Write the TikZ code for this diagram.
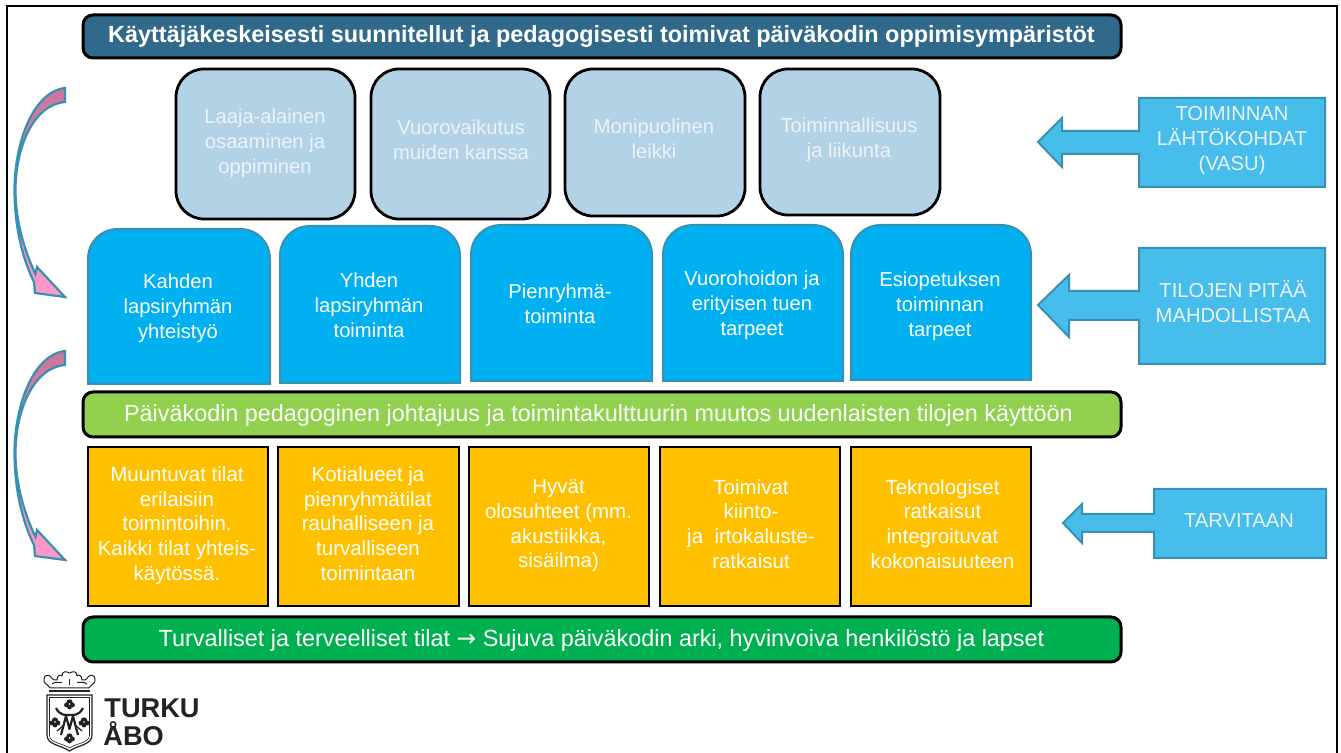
\documentclass[tikz,border=0pt]{standalone}
\usepackage{fontspec}
\setmainfont{Liberation Sans}
\newfontfamily\arrowfont{DejaVu Sans}
\definecolor{titleblue}{HTML}{30698A}
\definecolor{paleblue}{HTML}{B3D2E6}
\definecolor{paletext}{HTML}{EAF3F8}
\definecolor{brightblue}{HTML}{00B0F0}
\definecolor{tealedge}{HTML}{3A90B0}
\definecolor{skyblue}{HTML}{47BDEB}
\definecolor{limebar}{HTML}{92D050}
\definecolor{amber}{HTML}{FFC000}
\definecolor{greenbar}{HTML}{00B050}
\definecolor{pinklight}{HTML}{FF99CC}
\definecolor{pinkdark}{HTML}{C9769B}
\definecolor{logoink}{HTML}{222222}
\tikzset{
  bartitle/.style={draw=black,line width=1.5pt,rounded corners=5pt},
  softbox/.style={draw=black,line width=1.4pt,fill=paleblue,rounded corners=14pt},
  archbox/.style={draw=tealedge,line width=1pt,fill=brightblue},
  sharpbox/.style={draw=black,line width=1.4pt,fill=amber},
  callout/.style={draw=tealedge,line width=1pt,fill=skyblue,line join=miter},
  pinkarrow/.style={draw=tealedge,line width=1.1pt,top color=pinkdark,bottom color=pinklight,middle color=pinkdark!45!pinklight},
  bodytext/.style={text=white,align=center,font=\fontsize{10.1}{12.35}\selectfont,inner sep=0pt,execute at begin node=\strut,execute at end node=\strut},
  ambertext/.style={bodytext,font=\fontsize{10.25}{12.35}\selectfont},
  bartext/.style={bodytext,font=\fontsize{11.69}{14}\selectfont},
  paletxt/.style={bodytext,text=paletext},
  logoline/.style={draw=logoink,line width=0.5pt,fill=white},
}
\newcommand{\archshape}[4]{%
  \draw[archbox] (#1,#4) -- (#1,{#2+30}) .. controls (#1,{#2+13}) and ({#1+13},#2) .. ({#1+30},#2)
    -- ({#3-30},#2) .. controls ({#3-13},#2) and (#3,{#2+13}) .. (#3,{#2+30}) -- (#3,#4) -- cycle;}
\newcommand{\pinkarc}[1]{%
  \begin{scope}[shift={(0,#1)}]
  \draw[pinkarrow] (65,88) .. controls (32,92) and (14.5,145) .. (14.5,190)
    .. controls (14.5,225) and (22,258) .. (34,282) -- (35,293) -- (65,297) -- (37,267) -- (35.5,274)
    .. controls (24,250) and (15.5,220) .. (15.5,190) .. controls (15.5,150) and (32,105) .. (65,102) -- cycle;
  \end{scope}}
\begin{document}
\begin{tikzpicture}[x=0.5pt,y=-0.5pt]
\useasboundingbox (0,0) rectangle (1341,753);
% frame
\draw[black,line width=0.8pt] (7,753) -- (7,6) -- (1337,6) -- (1337,753);
% bars
\draw[bartitle,fill=titleblue] (83,15) rectangle (1121,58);
\node[bodytext,font=\bfseries\fontsize{11.71}{14}\selectfont] (title) at (601.5,37) {Käyttäjäkeskeisesti suunnitellut ja pedagogisesti toimivat päiväkodin oppimisympäristöt};
\draw[bartitle,fill=limebar] (83,392) rectangle (1121,437);
\node[bartext] (leadership) at (598.5,416) {Päiväkodin pedagoginen johtajuus ja toimintakulttuurin muutos uudenlaisten tilojen käyttöön};
\draw[bartitle,fill=greenbar] (83,617) rectangle (1121,662);
\node[bartext] (safe) at (601.5,640.5) {Turvalliset ja terveelliset tilat {\arrowfont→} Sujuva päiväkodin arki, hyvinvoiva henkilöstö ja lapset};
% top row
\draw[softbox] (176,69) rectangle (355,219);
\draw[softbox] (371,69) rectangle (550,219);
\draw[softbox] (565,69) rectangle (745,216);
\draw[softbox] (760,69) rectangle (940,215);
\node[paletxt] (t1) at (265,145) {Laaja-alainen\\osaaminen ja\\oppiminen};
\node[paletxt] (t2) at (461,143.5) {Vuorovaikutus\\muiden kanssa};
\node[paletxt] (t3) at (654,142.5) {Monipuolinen\\leikki};
\node[paletxt] (t4) at (849,141.5) {Toiminnallisuus\\ja liikunta};
% middle row
\archshape{88}{229}{270}{384}
\archshape{280}{226}{460}{383}
\archshape{471}{225}{652}{381}
\archshape{663}{225}{843}{381}
\archshape{851}{225}{1031}{380}
\node[bodytext] (m1) at (178,310) {Kahden\\lapsiryhmän\\yhteistyö};
\node[bodytext] (m2) at (369,309) {Yhden\\lapsiryhmän\\toiminta};
\node[bodytext] (m3) at (560,307.5) {Pienryhmä-\\toiminta};
\node[bodytext] (m4) at (752,307) {Vuorohoidon ja\\erityisen tuen\\tarpeet};
\node[bodytext] (m5) at (940,308) {Esiopetuksen\\toiminnan\\tarpeet};
% orange row
\draw[sharpbox] (88,447) rectangle (268,606);
\draw[sharpbox] (278,447) rectangle (459,606);
\draw[sharpbox] (469,447) rectangle (649,606);
\draw[sharpbox] (660,447) rectangle (840,606);
\draw[sharpbox] (851,447) rectangle (1031,606);
\node[ambertext] (o1) at (177,527) {Muuntuvat tilat\\erilaisiin\\toimintoihin.\\Kaikki tilat yhteis-\\käytössä.};
\node[ambertext] (o2) at (368,527) {Kotialueet ja\\pienryhmätilat\\rauhalliseen ja\\turvalliseen\\toimintaan};
\node[ambertext] (o3) at (558.5,527.5) {Hyvät\\olosuhteet (mm.\\akustiikka,\\sisäilma)};
\node[ambertext] (o4) at (751,527.5) {Toimivat\\kiinto-\\ja\ \ irtokaluste-\\ratkaisut};
\node[ambertext] (o5) at (942.5,527.5) {Teknologiset\\ratkaisut\\integroituvat\\kokonaisuuteen};
% callouts
\draw[callout] (1139,98) -- (1325,98) -- (1325,187) -- (1139,187) -- (1139,154) -- (1062,154) -- (1062,167) -- (1038,142) -- (1062,118) -- (1062,131) -- (1139,131) -- cycle;
\node[bodytext,text=paletext] (c1) at (1232,142) {TOIMINNAN\\LÄHTÖKOHDAT\\(VASU)};
\draw[callout] (1139,248) -- (1325,248) -- (1325,364) -- (1139,364) -- (1139,320) -- (1069,320) -- (1069,337) -- (1038,305) -- (1069,275) -- (1069,291) -- (1139,291) -- cycle;
\node[bodytext,text=paletext] (c2) at (1233,305.5) {TILOJEN PITÄÄ\\MAHDOLLISTAA};
\draw[callout] (1154,489) -- (1326,489) -- (1326,558) -- (1154,558) -- (1154,532) -- (1082,532) -- (1082,543) -- (1063,523) -- (1082,504) -- (1082,514) -- (1154,514) -- cycle;
\node[bodytext,text=paletext] (c3) at (1239,523) {TARVITAAN};
% curved arrows
\pinkarc{0}
\pinkarc{263}
% logo: crown
\draw[logoline,line join=round] (50,688) .. controls (48,684) and (43,684) .. (44,679) .. controls (44,675) and (49,674) .. (51,677)
  .. controls (53,680) and (55,681) .. (57,680) .. controls (57,675) and (61,674) .. (62,676)
  .. controls (62,671) and (66,671) .. (69.5,673) .. controls (73,671) and (77,671) .. (77,676)
  .. controls (78,674) and (82,675) .. (82,680) .. controls (84,681) and (86,680) .. (88,677)
  .. controls (90,674) and (95,675) .. (95,679) .. controls (96,684) and (91,684) .. (89,688) -- cycle;
\draw[logoink,line width=0.5pt] (52,684) .. controls (56,680) and (60,684) .. (62,682);
\draw[logoink,line width=0.5pt] (87,684) .. controls (83,680) and (79,684) .. (77,682);
\draw[logoink,line width=0.5pt] (69.5,679) -- (69.5,685);
\draw[logoink,line width=1pt] (49,691.5) -- (90,691.5);
% logo: shield
\draw[logoline,line width=0.6pt] (47,695) -- (92,695) -- (92,735) .. controls (92,745) and (78,745) .. (69.5,751) .. controls (61,745) and (47,745) .. (47,735) -- cycle;
\draw[logoink,line width=0.3pt] (49.5,697.5) -- (89.5,697.5) -- (89.5,735) .. controls (89.5,743) and (77,743) .. (69.5,748) .. controls (62,743) and (49.5,743) .. (49.5,735) -- cycle;
\foreach \cx/\cy in {69.5/704,55/722,84/722,69.5/738}{
  \fill[logoink] (\cx,\cy-1.5) circle[radius=3.2];
  \fill[logoink] (\cx-3,\cy+1) circle[radius=2.4];
  \fill[logoink] (\cx+3,\cy+1) circle[radius=2.4];
  \fill[logoink] (\cx,\cy+3) circle[radius=2.4];
  \fill[white] (\cx,\cy) circle[radius=0.9];
}
\draw[logoink,line width=1.1pt,line join=round] (61,735) -- (66,716) -- (69.5,729) -- (73,716) -- (78,735);
\draw[logoink,line width=1.1pt] (56,708) .. controls (60,716) and (66,715) .. (69.5,715) .. controls (73,715) and (79,716) .. (83,708);
\draw[logoink,line width=0.6pt] (57,731) -- (64,725);
\draw[logoink,line width=0.6pt] (82,731) -- (75,725);
% logo: words
\node[anchor=base west,inner sep=0pt,text=logoink,font=\bfseries\fontsize{13.6}{14}\selectfont] (turku) at (104,718) {TURKU};
\node[anchor=base west,inner sep=0pt,text=logoink,font=\bfseries\fontsize{13.6}{14}\selectfont] (abo) at (103,746) {ÅBO};
\end{tikzpicture}
\end{document}
